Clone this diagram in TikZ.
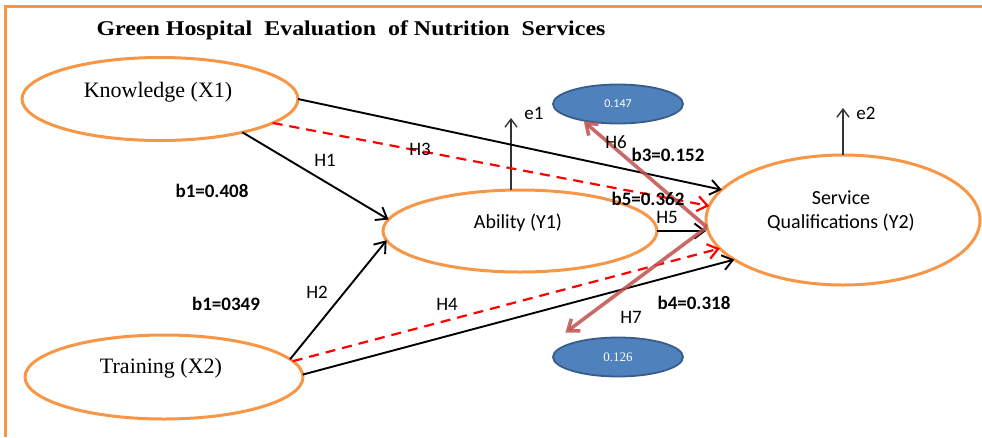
\documentclass[tikz,border=0pt]{standalone}
\usepackage{fontspec}
\setmainfont{Liberation Serif}
\newfontfamily\calibri{Carlito}
\usetikzlibrary{arrows.meta}
\usetikzlibrary{shapes.geometric}
\definecolor{frameorange}{HTML}{F79646}
\definecolor{latentblue}{HTML}{4F81BD}
\definecolor{latentedge}{HTML}{385D8A}
\definecolor{effectred}{HTML}{C0504D}

\begin{document}
\begin{tikzpicture}[x=1pt,y=-1pt,>={Straight Barb[length=10pt,width=15pt]},
		construct/.style={ellipse,draw=frameorange,line width=3pt,inner sep=0pt,outer sep=0pt},
		residual/.style={ellipse,draw=latentedge,fill=latentblue,line width=1.8pt,inner sep=0pt,
			minimum width=130pt,minimum height=39pt,text=white},
		direct/.style={->,line width=1.9pt},
		indirect/.style={->,red,line width=2.2pt,dash pattern=on 10pt off 7pt},
		effect/.style={->,effectred,line width=3.6pt,opacity=.85},
		vector/.style={-{Straight Barb[length=8pt,width=12pt]},line width=1.4pt,black!80},
		varname/.style={font=\fontsize{22}{26}\selectfont},
		hyp/.style={inner sep=1pt,font=\calibri\fontsize{19}{22}\selectfont},
		coef/.style={inner sep=1pt,font=\calibri\bfseries\fontsize{19}{22}\selectfont}]
	\useasboundingbox (0,0) rectangle (982,437);
	\draw[frameorange,line width=3pt] (5,437) -- (5,6) -- (982,6);

	\node[font=\bfseries\fontsize{21}{25}\selectfont,xscale=1.14,transform shape] (title) at (351,30)
		{Green Hospital\ \ Evaluation\ \ of Nutrition\ \ Services};

	\node[construct,minimum width=276pt,minimum height=83pt] (know) at (160,99) {};
	\node[construct,minimum width=278pt,minimum height=84pt] (train) at (164,377) {};
	\node[construct,minimum width=274pt,minimum height=82pt] (abil) at (520,231) {};
	\node[construct,minimum width=274pt,minimum height=130pt] (serv) at (843,220) {};
	\node[residual,font=\calibri\fontsize{12}{14}\selectfont] (res1) at (618,104) {0.147};
	\node[residual,font=\fontsize{13}{15}\selectfont] (res2) at (618,357) {0.126};

	\node[varname] (knowtext) at (158,92) {Knowledge (X1)};
	\node[varname] (traintext) at (161,368) {Training (X2)};
	\node[hyp,font=\calibri\fontsize{20}{23}\selectfont] (abiltext) at (518,223) {Ability (Y1)};
	\node[hyp,font=\calibri\fontsize{20}{23}\selectfont,align=center] (servtext) at (841,211)
		{Service\\[1pt]Qualifications (Y2)};

	\coordinate (e1top) at (511,118);
	\coordinate (e2top) at (843,108);
	\draw[vector] (e1top |- abil.north) -- (e1top);
	\draw[vector] (serv.north) -- (e2top);
	\node[hyp] (e1) at (534,113) {e1};
	\node[hyp] (e2) at (866,113) {e2};

	\draw[direct] (know.east) -- (serv.166);
	\draw[direct] (know.-22) -- (abil.175);
	\draw[indirect] (know.-12) -- (serv.174);
	\draw[direct] (train.8) -- (abil.184);
	\draw[indirect] (train.7) -- (serv.193);
	\draw[direct] (train.1) -- (serv.200);
	\draw[direct] (abil.east) -- (abil.east -| serv.west);
	\draw[effect] (serv.183) -- (res1.207);
	\draw[effect] (serv.183) -- ([xshift=-6pt,yshift=10pt]res2.north west);

	\node[hyp] (h1) at (325,160) {H1};
	\node[hyp] (h2) at (317,292) {H2};
	\node[hyp] (h3) at (420,149) {H3};
	\node[hyp] (h4) at (447,304) {H4};
	\node[hyp] (h5) at (667,217) {H5};
	\node[hyp] (h6) at (616,142) {H6};
	\node[hyp] (h7) at (631,317) {H7};
	\node[coef] (b1a) at (212,191) {b1=0.408};
	\node[coef] (b1b) at (226,304) {b1=0349};
	\node[coef] (b3) at (668,155) {b3=0.152};
	\node[coef] (b5) at (648,199) {b5=0.362};
	\node[coef] (b4) at (694,303) {b4=0.318};
\end{tikzpicture}
\end{document}
